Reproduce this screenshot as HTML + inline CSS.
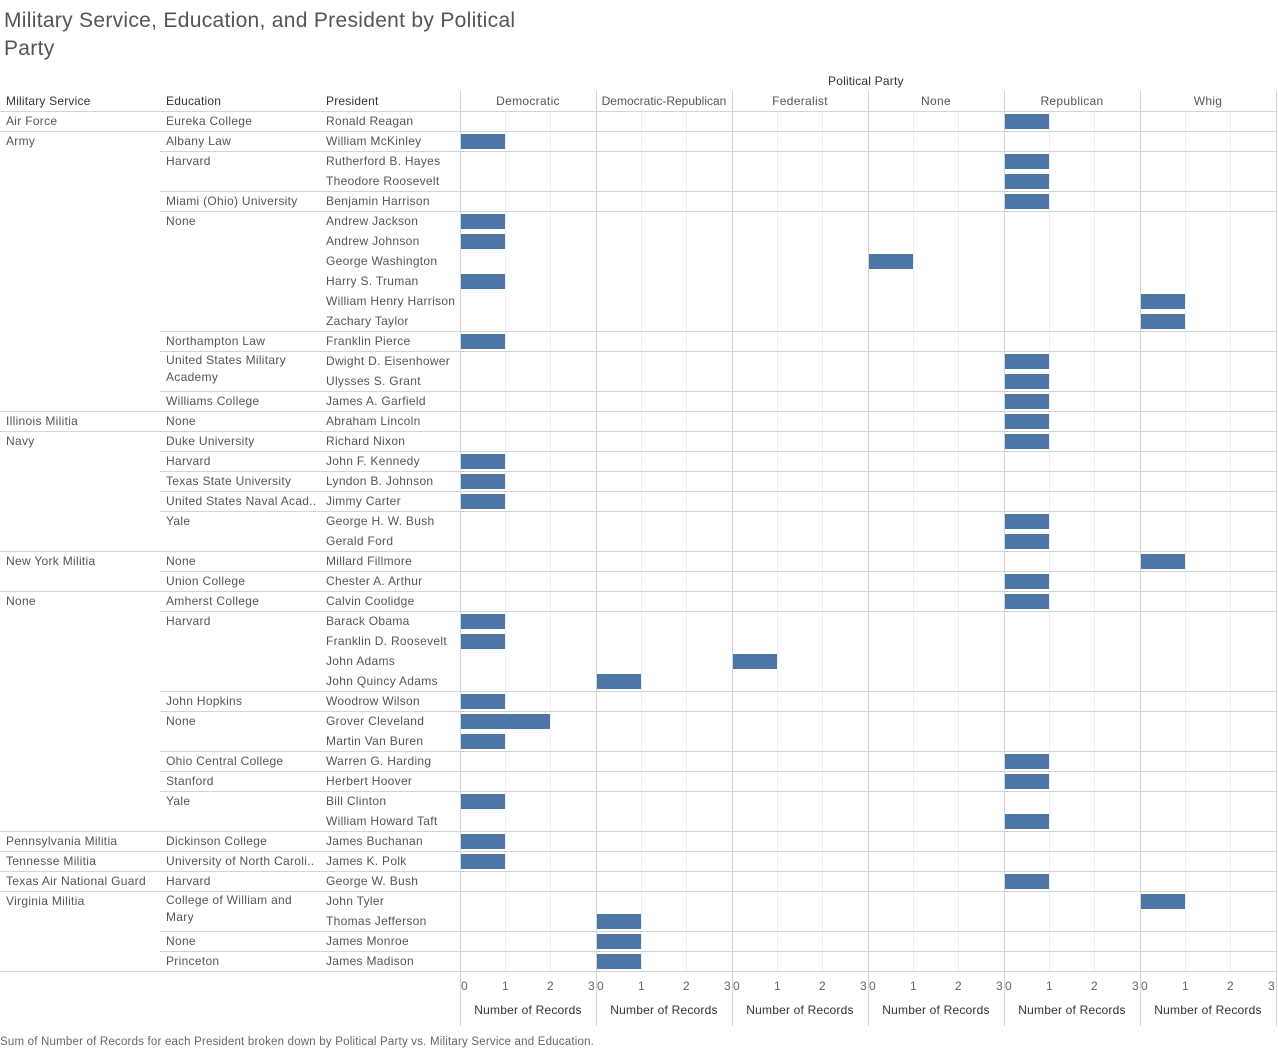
<!DOCTYPE html>
<html><head><meta charset="utf-8"><style>
body{margin:0;width:1278px;height:1052px;background:#fff;position:relative;overflow:hidden;font-family:"Liberation Sans",sans-serif;}
.t{position:absolute;font-size:12px;color:#555;white-space:nowrap;line-height:20px;letter-spacing:0.3px;}
.w{white-space:normal;line-height:17px;width:130px;padding-top:1px}
.h{position:absolute;font-size:12px;color:#333;line-height:20px;letter-spacing:0.2px;}
.hl{position:absolute;height:1px;background:#d4d4d4;right:2px;}
.vl{position:absolute;width:1px;background:#d4d4d4;}
.gl{position:absolute;width:1px;background:#efefef;top:111px;height:860px;}
.b{position:absolute;height:15px;width:44px;background:#4e76a6;}
.ax{position:absolute;top:979px;font-size:12px;color:#666;}
.nr{position:absolute;top:1003px;font-size:12px;color:#333;width:136px;text-align:center;letter-spacing:0.2px;}
</style></head><body>
<div style="position:absolute;left:4px;top:7px;font-size:21px;line-height:28px;color:#555;width:520px;letter-spacing:0.3px;">Military Service, Education, and President by Political Party</div>
<div class="h" style="left:828px;top:71px">Political Party</div>
<div class="h" style="left:6px;top:91px">Military Service</div>
<div class="h" style="left:166px;top:91px">Education</div>
<div class="h" style="left:326px;top:91px">President</div>
<div class="t" style="left:460px;top:91px;width:136px;text-align:center">Democratic</div>
<div class="t" style="left:596px;top:91px;width:136px;text-align:center;letter-spacing:0">Democratic-Republican</div>
<div class="t" style="left:732px;top:91px;width:136px;text-align:center">Federalist</div>
<div class="t" style="left:868px;top:91px;width:136px;text-align:center">None</div>
<div class="t" style="left:1004px;top:91px;width:136px;text-align:center">Republican</div>
<div class="t" style="left:1140px;top:91px;width:136px;text-align:center">Whig</div>

<div class="gl" style="left:505px"></div><div class="gl" style="left:550px"></div>
<div class="gl" style="left:641px"></div><div class="gl" style="left:686px"></div>
<div class="gl" style="left:777px"></div><div class="gl" style="left:822px"></div>
<div class="gl" style="left:913px"></div><div class="gl" style="left:958px"></div>
<div class="gl" style="left:1049px"></div><div class="gl" style="left:1094px"></div>
<div class="gl" style="left:1185px"></div><div class="gl" style="left:1230px"></div>

<div class="vl" style="left:460px;top:91px;height:935px"></div>
<div class="vl" style="left:596px;top:91px;height:935px"></div>
<div class="vl" style="left:732px;top:91px;height:935px"></div>
<div class="vl" style="left:868px;top:91px;height:935px"></div>
<div class="vl" style="left:1004px;top:91px;height:935px"></div>
<div class="vl" style="left:1140px;top:91px;height:935px"></div>
<div class="vl" style="left:1276px;top:91px;height:935px"></div>

<div class="hl" style="left:0;top:111px"></div>
<div class="hl" style="left:0;top:131px"></div>
<div class="hl" style="left:0;top:411px"></div>
<div class="hl" style="left:0;top:431px"></div>
<div class="hl" style="left:0;top:551px"></div>
<div class="hl" style="left:0;top:591px"></div>
<div class="hl" style="left:0;top:831px"></div>
<div class="hl" style="left:0;top:851px"></div>
<div class="hl" style="left:0;top:871px"></div>
<div class="hl" style="left:0;top:891px"></div>
<div class="hl" style="left:0;top:971px"></div>
<div class="hl" style="left:160px;top:151px"></div>
<div class="hl" style="left:160px;top:191px"></div>
<div class="hl" style="left:160px;top:211px"></div>
<div class="hl" style="left:160px;top:331px"></div>
<div class="hl" style="left:160px;top:351px"></div>
<div class="hl" style="left:160px;top:391px"></div>
<div class="hl" style="left:160px;top:451px"></div>
<div class="hl" style="left:160px;top:471px"></div>
<div class="hl" style="left:160px;top:491px"></div>
<div class="hl" style="left:160px;top:511px"></div>
<div class="hl" style="left:160px;top:571px"></div>
<div class="hl" style="left:160px;top:611px"></div>
<div class="hl" style="left:160px;top:691px"></div>
<div class="hl" style="left:160px;top:711px"></div>
<div class="hl" style="left:160px;top:751px"></div>
<div class="hl" style="left:160px;top:771px"></div>
<div class="hl" style="left:160px;top:791px"></div>
<div class="hl" style="left:160px;top:931px"></div>
<div class="hl" style="left:160px;top:951px"></div>

<div class="t" style="left:6px;top:111px">Air Force</div>
<div class="t" style="left:6px;top:131px">Army</div>
<div class="t" style="left:6px;top:411px">Illinois Militia</div>
<div class="t" style="left:6px;top:431px">Navy</div>
<div class="t" style="left:6px;top:551px">New York Militia</div>
<div class="t" style="left:6px;top:591px">None</div>
<div class="t" style="left:6px;top:831px">Pennsylvania Militia</div>
<div class="t" style="left:6px;top:851px">Tennesse Militia</div>
<div class="t" style="left:6px;top:871px">Texas Air National Guard</div>
<div class="t" style="left:6px;top:891px">Virginia Militia</div>

<div class="t" style="left:166px;top:111px">Eureka College</div>
<div class="t" style="left:166px;top:131px">Albany Law</div>
<div class="t" style="left:166px;top:151px">Harvard</div>
<div class="t" style="left:166px;top:191px">Miami (Ohio) University</div>
<div class="t" style="left:166px;top:211px">None</div>
<div class="t" style="left:166px;top:331px">Northampton Law</div>
<div class="t w" style="left:166px;top:351px">United States Military Academy</div>
<div class="t" style="left:166px;top:391px">Williams College</div>
<div class="t" style="left:166px;top:411px">None</div>
<div class="t" style="left:166px;top:431px">Duke University</div>
<div class="t" style="left:166px;top:451px">Harvard</div>
<div class="t" style="left:166px;top:471px">Texas State University</div>
<div class="t" style="left:166px;top:491px">United States Naval Acad..</div>
<div class="t" style="left:166px;top:511px">Yale</div>
<div class="t" style="left:166px;top:551px">None</div>
<div class="t" style="left:166px;top:571px">Union College</div>
<div class="t" style="left:166px;top:591px">Amherst College</div>
<div class="t" style="left:166px;top:611px">Harvard</div>
<div class="t" style="left:166px;top:691px">John Hopkins</div>
<div class="t" style="left:166px;top:711px">None</div>
<div class="t" style="left:166px;top:751px">Ohio Central College</div>
<div class="t" style="left:166px;top:771px">Stanford</div>
<div class="t" style="left:166px;top:791px">Yale</div>
<div class="t" style="left:166px;top:831px">Dickinson College</div>
<div class="t" style="left:166px;top:851px">University of North Caroli..</div>
<div class="t" style="left:166px;top:871px">Harvard</div>
<div class="t w" style="left:166px;top:891px">College of William and Mary</div>
<div class="t" style="left:166px;top:931px">None</div>
<div class="t" style="left:166px;top:951px">Princeton</div>

<div class="t" style="left:326px;top:111px">Ronald Reagan</div>
<div class="t" style="left:326px;top:131px">William McKinley</div>
<div class="t" style="left:326px;top:151px">Rutherford B. Hayes</div>
<div class="t" style="left:326px;top:171px">Theodore Roosevelt</div>
<div class="t" style="left:326px;top:191px">Benjamin Harrison</div>
<div class="t" style="left:326px;top:211px">Andrew Jackson</div>
<div class="t" style="left:326px;top:231px">Andrew Johnson</div>
<div class="t" style="left:326px;top:251px">George Washington</div>
<div class="t" style="left:326px;top:271px">Harry S. Truman</div>
<div class="t" style="left:326px;top:291px">William Henry Harrison</div>
<div class="t" style="left:326px;top:311px">Zachary Taylor</div>
<div class="t" style="left:326px;top:331px">Franklin Pierce</div>
<div class="t" style="left:326px;top:351px">Dwight D. Eisenhower</div>
<div class="t" style="left:326px;top:371px">Ulysses S. Grant</div>
<div class="t" style="left:326px;top:391px">James A. Garfield</div>
<div class="t" style="left:326px;top:411px">Abraham Lincoln</div>
<div class="t" style="left:326px;top:431px">Richard Nixon</div>
<div class="t" style="left:326px;top:451px">John F. Kennedy</div>
<div class="t" style="left:326px;top:471px">Lyndon B. Johnson</div>
<div class="t" style="left:326px;top:491px">Jimmy Carter</div>
<div class="t" style="left:326px;top:511px">George H. W. Bush</div>
<div class="t" style="left:326px;top:531px">Gerald Ford</div>
<div class="t" style="left:326px;top:551px">Millard Fillmore</div>
<div class="t" style="left:326px;top:571px">Chester A. Arthur</div>
<div class="t" style="left:326px;top:591px">Calvin Coolidge</div>
<div class="t" style="left:326px;top:611px">Barack Obama</div>
<div class="t" style="left:326px;top:631px">Franklin D. Roosevelt</div>
<div class="t" style="left:326px;top:651px">John Adams</div>
<div class="t" style="left:326px;top:671px">John Quincy Adams</div>
<div class="t" style="left:326px;top:691px">Woodrow Wilson</div>
<div class="t" style="left:326px;top:711px">Grover Cleveland</div>
<div class="t" style="left:326px;top:731px">Martin Van Buren</div>
<div class="t" style="left:326px;top:751px">Warren G. Harding</div>
<div class="t" style="left:326px;top:771px">Herbert Hoover</div>
<div class="t" style="left:326px;top:791px">Bill Clinton</div>
<div class="t" style="left:326px;top:811px">William Howard Taft</div>
<div class="t" style="left:326px;top:831px">James Buchanan</div>
<div class="t" style="left:326px;top:851px">James K. Polk</div>
<div class="t" style="left:326px;top:871px">George W. Bush</div>
<div class="t" style="left:326px;top:891px">John Tyler</div>
<div class="t" style="left:326px;top:911px">Thomas Jefferson</div>
<div class="t" style="left:326px;top:931px">James Monroe</div>
<div class="t" style="left:326px;top:951px">James Madison</div>

<div class="b" style="left:1005px;top:114px"></div>
<div class="b" style="left:461px;top:134px"></div>
<div class="b" style="left:1005px;top:154px"></div>
<div class="b" style="left:1005px;top:174px"></div>
<div class="b" style="left:1005px;top:194px"></div>
<div class="b" style="left:461px;top:214px"></div>
<div class="b" style="left:461px;top:234px"></div>
<div class="b" style="left:869px;top:254px"></div>
<div class="b" style="left:461px;top:274px"></div>
<div class="b" style="left:1141px;top:294px"></div>
<div class="b" style="left:1141px;top:314px"></div>
<div class="b" style="left:461px;top:334px"></div>
<div class="b" style="left:1005px;top:354px"></div>
<div class="b" style="left:1005px;top:374px"></div>
<div class="b" style="left:1005px;top:394px"></div>
<div class="b" style="left:1005px;top:414px"></div>
<div class="b" style="left:1005px;top:434px"></div>
<div class="b" style="left:461px;top:454px"></div>
<div class="b" style="left:461px;top:474px"></div>
<div class="b" style="left:461px;top:494px"></div>
<div class="b" style="left:1005px;top:514px"></div>
<div class="b" style="left:1005px;top:534px"></div>
<div class="b" style="left:1141px;top:554px"></div>
<div class="b" style="left:1005px;top:574px"></div>
<div class="b" style="left:1005px;top:594px"></div>
<div class="b" style="left:461px;top:614px"></div>
<div class="b" style="left:461px;top:634px"></div>
<div class="b" style="left:733px;top:654px"></div>
<div class="b" style="left:597px;top:674px"></div>
<div class="b" style="left:461px;top:694px"></div>
<div class="b" style="left:461px;top:714px;width:89px"></div>
<div class="b" style="left:461px;top:734px"></div>
<div class="b" style="left:1005px;top:754px"></div>
<div class="b" style="left:1005px;top:774px"></div>
<div class="b" style="left:461px;top:794px"></div>
<div class="b" style="left:1005px;top:814px"></div>
<div class="b" style="left:461px;top:834px"></div>
<div class="b" style="left:461px;top:854px"></div>
<div class="b" style="left:1005px;top:874px"></div>
<div class="b" style="left:1141px;top:894px"></div>
<div class="b" style="left:597px;top:914px"></div>
<div class="b" style="left:597px;top:934px"></div>
<div class="b" style="left:597px;top:954px"></div>

<div class="ax" style="left:461px">0</div><div class="ax" style="left:502px">1</div><div class="ax" style="left:547px">2</div><div class="ax" style="left:588px">3</div>
<div class="ax" style="left:597px">0</div><div class="ax" style="left:638px">1</div><div class="ax" style="left:683px">2</div><div class="ax" style="left:724px">3</div>
<div class="ax" style="left:733px">0</div><div class="ax" style="left:774px">1</div><div class="ax" style="left:819px">2</div><div class="ax" style="left:860px">3</div>
<div class="ax" style="left:869px">0</div><div class="ax" style="left:910px">1</div><div class="ax" style="left:955px">2</div><div class="ax" style="left:996px">3</div>
<div class="ax" style="left:1005px">0</div><div class="ax" style="left:1046px">1</div><div class="ax" style="left:1091px">2</div><div class="ax" style="left:1132px">3</div>
<div class="ax" style="left:1141px">0</div><div class="ax" style="left:1182px">1</div><div class="ax" style="left:1227px">2</div><div class="ax" style="left:1268px">3</div>
<div class="nr" style="left:460px">Number of Records</div>
<div class="nr" style="left:596px">Number of Records</div>
<div class="nr" style="left:732px">Number of Records</div>
<div class="nr" style="left:868px">Number of Records</div>
<div class="nr" style="left:1004px">Number of Records</div>
<div class="nr" style="left:1140px">Number of Records</div>

<div style="position:absolute;left:0;top:1036px;font-size:11.5px;color:#666;white-space:nowrap;letter-spacing:0.2px">Sum of Number of Records for each President broken down by Political Party vs. Military Service and Education.</div>
</body></html>
